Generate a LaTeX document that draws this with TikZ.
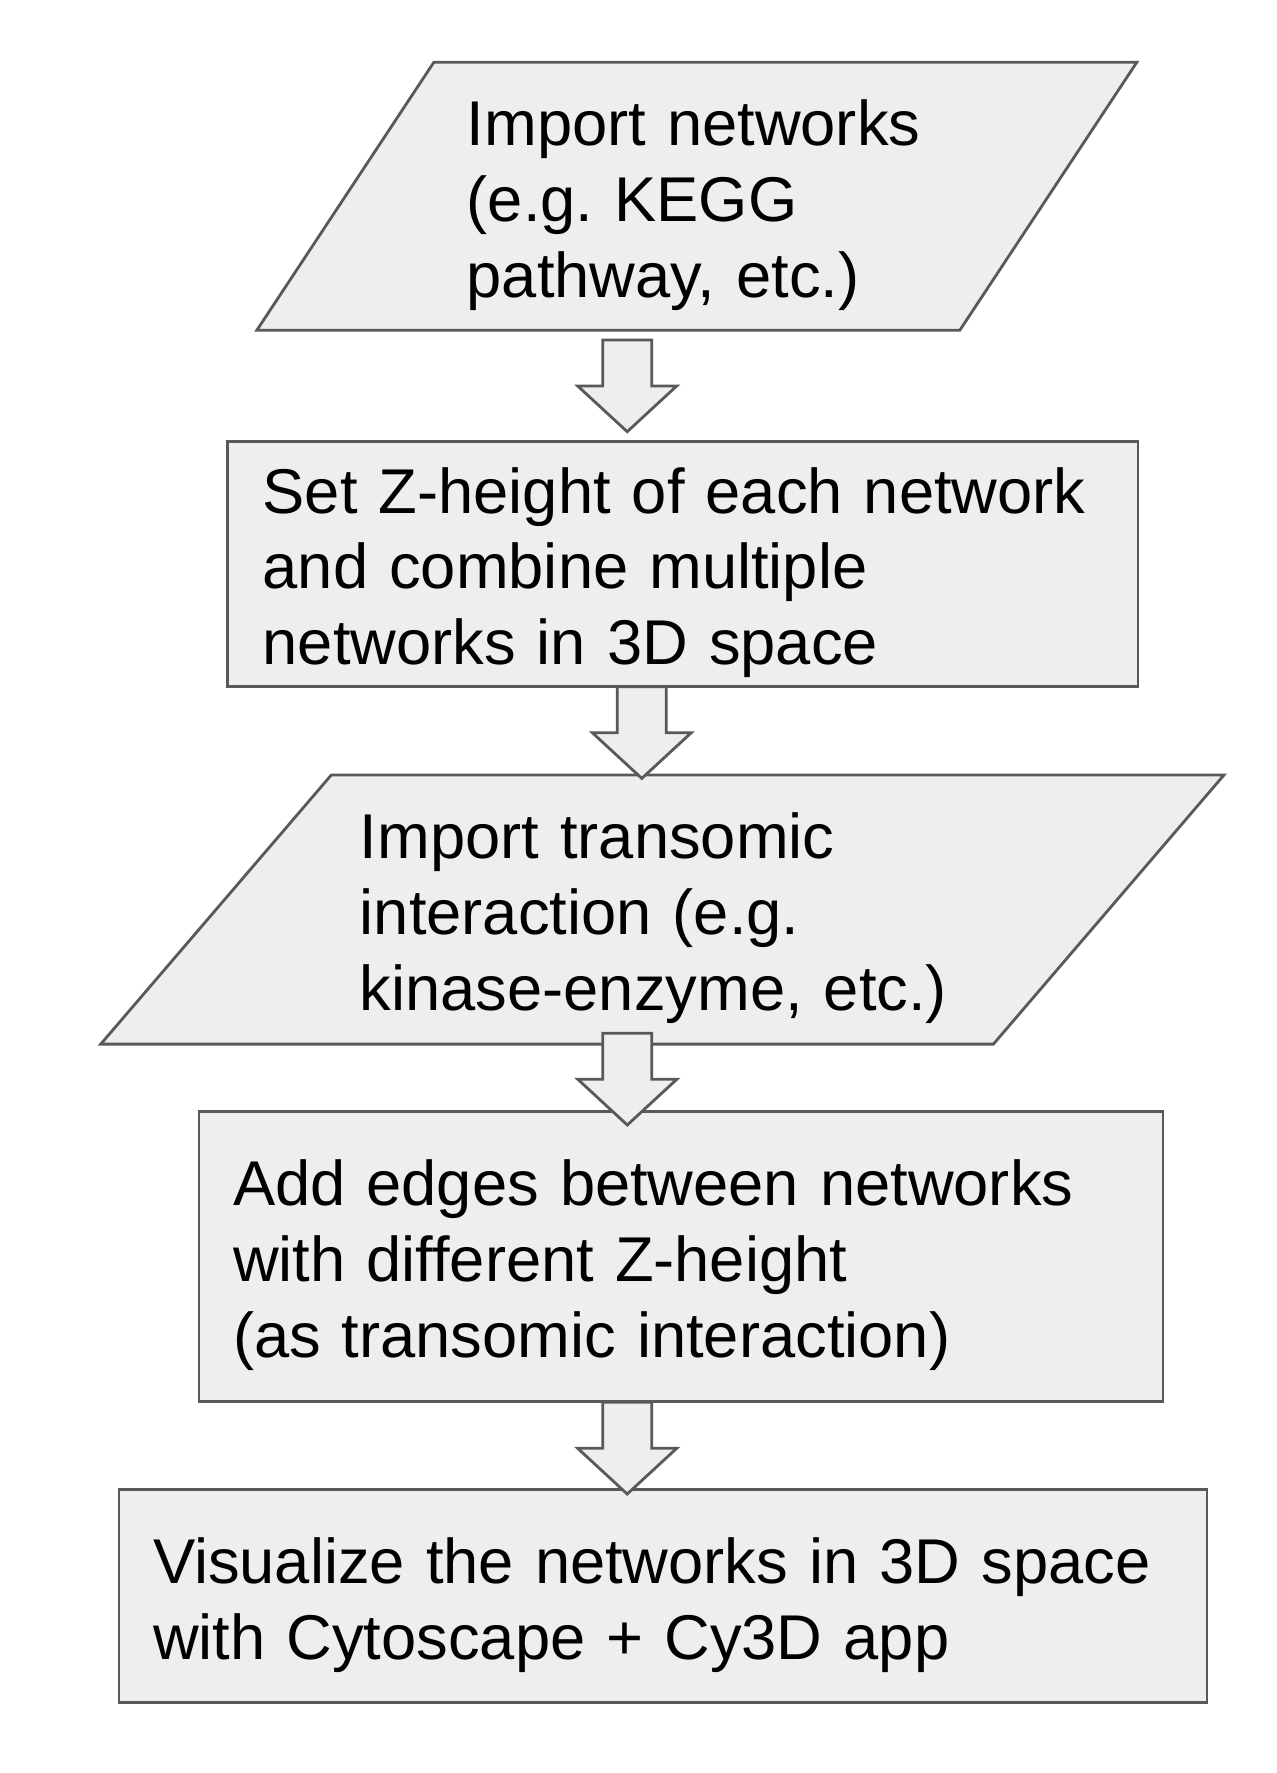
\documentclass[tikz,border=0pt]{standalone}
\usepackage{fontspec}
\setmainfont{Liberation Sans}
\frenchspacing
\usetikzlibrary{shapes.geometric}
\definecolor{boxfill}{HTML}{EEEEEE}
\definecolor{boxline}{HTML}{595959}
% hollow down arrow, #1 = middle of the shaft top
\newcommand{\flowarrow}[1]{%
    \draw[arrowbox] (#1) ++(-0.245,0) -- ++(0,-0.46) -- ++(-0.25,0) -- ++(0.495,-0.457)
        -- ++(0.495,0.457) -- ++(-0.25,0) -- ++(0,0.46) -- cycle;}

\begin{document}
\begin{tikzpicture}[
    box/.style={draw=boxline, fill=boxfill, line width=0.8pt, inner sep=0pt, align=left,
        font=\fontsize{18pt}{21.6pt}\selectfont, execute at begin node={\rule{0pt}{18pt}}},
    stepbox/.style={box, rectangle},
    iobox/.style={box, trapezium, trapezium stretches body=true},
    arrowbox/.style={draw=boxline, fill=boxfill, line width=0.8pt}]
    \useasboundingbox (0,0) rectangle (12.76,-17.73);

    \node[iobox, trapezium left angle=52.2, trapezium right angle=127.8, minimum width=8.8cm, minimum height=2.68cm, text width=4.6cm] (netin) at (6.968, -1.963) {Import networks\\(e.g. KEGG\\pathway, etc.)};
    \node[stepbox, minimum width=9.106cm, minimum height=2.454cm, text width=8.4cm] (zset) at (6.827, -5.639) {Set Z-height of each network\\and combine multiple\\networks in 3D space};
    \node[iobox, trapezium left angle=44.7, trapezium right angle=135.3, minimum width=11.233cm, minimum height=2.692cm, text width=6.05cm] (transin) at (6.624, -9.095) {Import transomic\\interaction (e.g.\\kinase-enzyme, etc.)};
    \node[stepbox, minimum width=9.64cm, minimum height=2.90cm, text width=8.96cm] (edges) at (6.81, -12.567) {Add edges between networks\\with different Z-height\\(as transomic interaction)};
    \node[stepbox, minimum width=10.88cm, minimum height=2.126cm, text width=10.2cm] (vis) at (6.63, -15.961) {Visualize the networks in 3D space\\with Cytoscape + Cy3D app};

    \coordinate (a1) at (6.272, -3.40);
    \coordinate (a2) at (6.418, -6.867);
    \coordinate (a3) at (6.273, -10.333);
    \coordinate (a4) at (6.272, -14.023);

    \flowarrow{a1}
    \flowarrow{a2}
    \flowarrow{a3}
    \flowarrow{a4}
\end{tikzpicture}
\end{document}
